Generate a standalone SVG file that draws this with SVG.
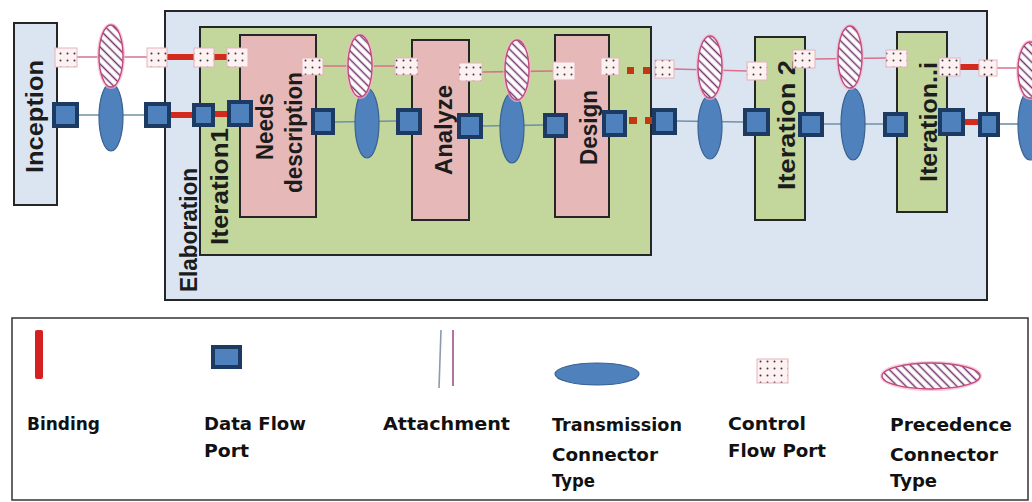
<svg xmlns="http://www.w3.org/2000/svg" width="1032" height="502" viewBox="0 0 1032 502">
<defs>
<pattern id="hatch" width="6" height="6" patternUnits="userSpaceOnUse" patternTransform="rotate(-45)">
<rect width="6" height="6" fill="#ffffff"/>
<line x1="1.5" y1="0" x2="1.5" y2="6" stroke="#74336a" stroke-width="1.5"/>
</pattern>
<pattern id="dots" width="7" height="7" patternUnits="userSpaceOnUse" x="1" y="1">
<rect width="7" height="7" fill="#fdf1f2"/>
<circle cx="3.5" cy="3.5" r="1" fill="#3a3a3a"/>
</pattern>
<style>
.box{stroke:#262626;stroke-width:2}
.blue{fill:#dbe5f1}
.green{fill:#c3d69b}
.pink{fill:#e6b9b8}
.cp{fill:url(#dots);stroke:#e4b4bd;stroke-width:1}
.dp{fill:#4f81bd;stroke:#1d3a63;stroke-width:4}
.tr{fill:#4f81bd;stroke:#3a6190;stroke-width:1.2}
.glow{fill:none;stroke:#f6b6cf;stroke-width:4;opacity:0.7}
.pr{fill:url(#hatch);stroke:#c24a7c;stroke-width:1.4}
.ctl{stroke:#d8708f;stroke-width:1.6;fill:none}
.dat{stroke:#6f91a9;stroke-width:1.6;fill:none}
.bind{stroke:#d42a1e;stroke-width:6;fill:none}
.rdot{fill:#c4380f}
.lbl{font-family:"Liberation Sans",Arial,sans-serif;font-weight:bold;font-size:23px;fill:#1c1c1c}
.leg{font-family:"DejaVu Sans",Verdana,sans-serif;font-weight:bold;font-size:18px;fill:#111}
</style>
</defs>
<rect width="1032" height="502" fill="#ffffff"/>

<g id="elaboration">
<rect class="box blue" x="165" y="11" width="822" height="289"/>
<text class="lbl" transform="translate(197,230) rotate(-90)" text-anchor="middle" textLength="124" lengthAdjust="spacingAndGlyphs">Elaboration</text>
</g>
<g id="inception">
<rect class="box blue" x="14" y="23" width="43" height="182"/>
<text class="lbl" transform="translate(43,116.5) rotate(-90)" text-anchor="middle" textLength="113" lengthAdjust="spacingAndGlyphs">Inception</text>
</g>
<g id="iteration1">
<rect class="box green" x="200" y="27" width="451" height="228"/>
<text class="lbl" transform="translate(228,186.5) rotate(-90)" text-anchor="middle" textLength="117" lengthAdjust="spacingAndGlyphs">Iteration1</text>
</g>
<g id="needs-description">
<rect class="box pink" x="240" y="35" width="76" height="182"/>
<text class="lbl" transform="translate(273,126.5) rotate(-90)" text-anchor="middle" textLength="67" lengthAdjust="spacingAndGlyphs">Needs</text>
<text class="lbl" transform="translate(302,132.5) rotate(-90)" text-anchor="middle" textLength="121" lengthAdjust="spacingAndGlyphs">description</text>
</g>
<g id="analyze">
<rect class="box pink" x="412" y="40" width="57" height="180"/>
<text class="lbl" transform="translate(452,130) rotate(-90)" text-anchor="middle" textLength="90" lengthAdjust="spacingAndGlyphs">Analyze</text>
</g>
<g id="design">
<rect class="box pink" x="555" y="35" width="54" height="182"/>
<text class="lbl" transform="translate(597,127.5) rotate(-90)" text-anchor="middle" textLength="75" lengthAdjust="spacingAndGlyphs">Design</text>
</g>
<g id="iteration2">
<rect class="box green" x="755" y="37" width="50" height="183"/>
<text class="lbl" transform="translate(795,125) rotate(-90)" text-anchor="middle" textLength="130" lengthAdjust="spacingAndGlyphs">Iteration 2</text>
</g>
<g id="iteration-i">
<rect class="box green" x="897" y="32" width="50" height="180"/>
<text class="lbl" transform="translate(937,122) rotate(-90)" text-anchor="middle" textLength="120" lengthAdjust="spacingAndGlyphs">Iteration..i</text>
</g>

<g id="connectors">
<line class="ctl" x1="77" y1="57" x2="147" y2="57"/>
<line class="ctl" x1="323" y1="66" x2="395" y2="66"/>
<line class="ctl" x1="482" y1="72" x2="553" y2="71"/>
<line class="ctl" x1="674" y1="69" x2="747" y2="71"/>
<line class="ctl" x1="815" y1="59" x2="886" y2="58"/>
<line class="ctl" x1="997" y1="68" x2="1032" y2="68"/>
<line class="bind" x1="167" y1="57" x2="194" y2="57"/>
<line class="bind" x1="214" y1="57" x2="227" y2="57"/>
<line class="bind" x1="960" y1="67" x2="979" y2="67"/>
<rect class="rdot" x="627" y="67" width="7" height="7"/>
<rect class="rdot" x="643" y="67" width="7" height="7"/>
<line class="dat" x1="79" y1="115" x2="144" y2="115"/>
<line class="dat" x1="335" y1="122" x2="396" y2="121"/>
<line class="dat" x1="483" y1="126" x2="543" y2="125"/>
<line class="dat" x1="677" y1="121" x2="743" y2="122"/>
<line class="dat" x1="824" y1="124" x2="883" y2="124"/>
<line class="dat" x1="1000" y1="124" x2="1032" y2="124"/>
<line class="bind" x1="171" y1="115" x2="192" y2="115"/>
<line class="bind" x1="215" y1="114" x2="227" y2="114"/>
<line class="bind" x1="965" y1="122" x2="978" y2="122"/>
<rect class="rdot" x="629" y="117" width="8" height="7"/>
<rect class="rdot" x="645" y="117" width="7" height="7"/>
</g>

<g id="transmission-connectors">
<ellipse class="tr" cx="111" cy="117" rx="12" ry="34"/>
<ellipse class="tr" cx="367" cy="123" rx="12" ry="35"/>
<ellipse class="tr" cx="512" cy="128" rx="12" ry="35"/>
<ellipse class="tr" cx="710" cy="127" rx="12" ry="32"/>
<ellipse class="tr" cx="853" cy="124" rx="12" ry="36"/>
<ellipse class="tr" cx="1030" cy="125" rx="12" ry="35"/>
</g>
<g id="precedence-connectors">
<ellipse class="glow" cx="111" cy="56" rx="12" ry="31"/>
<ellipse class="pr" cx="111" cy="56" rx="12" ry="31"/>
<ellipse class="glow" cx="360" cy="66" rx="12" ry="31"/>
<ellipse class="pr" cx="360" cy="66" rx="12" ry="31"/>
<ellipse class="glow" cx="517" cy="70" rx="12" ry="30"/>
<ellipse class="pr" cx="517" cy="70" rx="12" ry="30"/>
<ellipse class="glow" cx="710" cy="67" rx="12" ry="31"/>
<ellipse class="pr" cx="710" cy="67" rx="12" ry="31"/>
<ellipse class="glow" cx="850" cy="57" rx="12" ry="31"/>
<ellipse class="pr" cx="850" cy="57" rx="12" ry="31"/>
<ellipse class="glow" cx="1030" cy="70" rx="12" ry="28"/>
<ellipse class="pr" cx="1030" cy="70" rx="12" ry="28"/>
</g>

<g id="control-ports">
<rect class="cp" x="55" y="48" width="22" height="19"/>
<rect class="cp" x="147" y="48" width="20" height="19"/>
<rect class="cp" x="194" y="48" width="20" height="19"/>
<rect class="cp" x="227" y="48" width="21" height="19"/>
<rect class="cp" x="302" y="58" width="21" height="17"/>
<rect class="cp" x="395" y="58" width="23" height="17"/>
<rect class="cp" x="459" y="63" width="23" height="18"/>
<rect class="cp" x="553" y="62" width="22" height="18"/>
<rect class="cp" x="601" y="58" width="18" height="17"/>
<rect class="cp" x="655" y="60" width="19" height="18"/>
<rect class="cp" x="747" y="62" width="20" height="18"/>
<rect class="cp" x="793" y="50" width="22" height="18"/>
<rect class="cp" x="886" y="50" width="21" height="17"/>
<rect class="cp" x="939" y="58" width="21" height="18"/>
<rect class="cp" x="979" y="60" width="18" height="16"/>
</g>
<g id="data-ports">
<rect class="dp" x="54" y="104" width="23" height="22"/>
<rect class="dp" x="146" y="104" width="23" height="22"/>
<rect class="dp" x="194" y="105" width="19" height="20"/>
<rect class="dp" x="229" y="102" width="22" height="23"/>
<rect class="dp" x="313" y="110" width="20" height="23"/>
<rect class="dp" x="398" y="110" width="22" height="23"/>
<rect class="dp" x="459" y="115" width="22" height="22"/>
<rect class="dp" x="545" y="115" width="21" height="21"/>
<rect class="dp" x="604" y="112" width="21" height="23"/>
<rect class="dp" x="654" y="110" width="21" height="23"/>
<rect class="dp" x="745" y="110" width="23" height="24"/>
<rect class="dp" x="800" y="114" width="22" height="21"/>
<rect class="dp" x="885" y="114" width="21" height="21"/>
<rect class="dp" x="940" y="110" width="23" height="24"/>
<rect class="dp" x="980" y="114" width="18" height="21"/>
</g>

<g id="legend">
<rect x="12" y="318" width="1016" height="182" fill="#ffffff" stroke="#333333" stroke-width="1.5"/>
<rect x="35" y="330" width="8" height="49" rx="2" fill="#d42020"/>
<rect class="dp" x="213" y="347" width="27" height="20" stroke-width="3.5"/>
<line x1="441" y1="330" x2="439" y2="388" stroke="#8a9bb0" stroke-width="1.6"/>
<line x1="453" y1="330" x2="453" y2="386" stroke="#a0508a" stroke-width="1.6"/>
<ellipse class="tr" cx="597" cy="374" rx="42" ry="11"/>
<rect class="cp" x="757" y="359" width="31" height="24"/>
<ellipse class="glow" cx="931" cy="376" rx="49" ry="13"/>
<ellipse class="pr" cx="931" cy="376" rx="49" ry="13"/>
<text class="leg" x="27" y="430" textLength="73" lengthAdjust="spacingAndGlyphs">Binding</text>
<text class="leg" x="204" y="430" textLength="102" lengthAdjust="spacingAndGlyphs">Data Flow</text>
<text class="leg" x="204" y="457" textLength="45" lengthAdjust="spacingAndGlyphs">Port</text>
<text class="leg" x="383" y="430" textLength="127" lengthAdjust="spacingAndGlyphs">Attachment</text>
<text class="leg" x="552" y="431" textLength="130" lengthAdjust="spacingAndGlyphs">Transmission</text>
<text class="leg" x="552" y="461" textLength="106" lengthAdjust="spacingAndGlyphs">Connector</text>
<text class="leg" x="552" y="487" textLength="43" lengthAdjust="spacingAndGlyphs">Type</text>
<text class="leg" x="728" y="430" textLength="78" lengthAdjust="spacingAndGlyphs">Control</text>
<text class="leg" x="728" y="457" textLength="98" lengthAdjust="spacingAndGlyphs">Flow Port</text>
<text class="leg" x="890" y="431" textLength="122" lengthAdjust="spacingAndGlyphs">Precedence</text>
<text class="leg" x="890" y="461" textLength="108" lengthAdjust="spacingAndGlyphs">Connector</text>
<text class="leg" x="890" y="487" textLength="47" lengthAdjust="spacingAndGlyphs">Type</text>
</g>
</svg>
